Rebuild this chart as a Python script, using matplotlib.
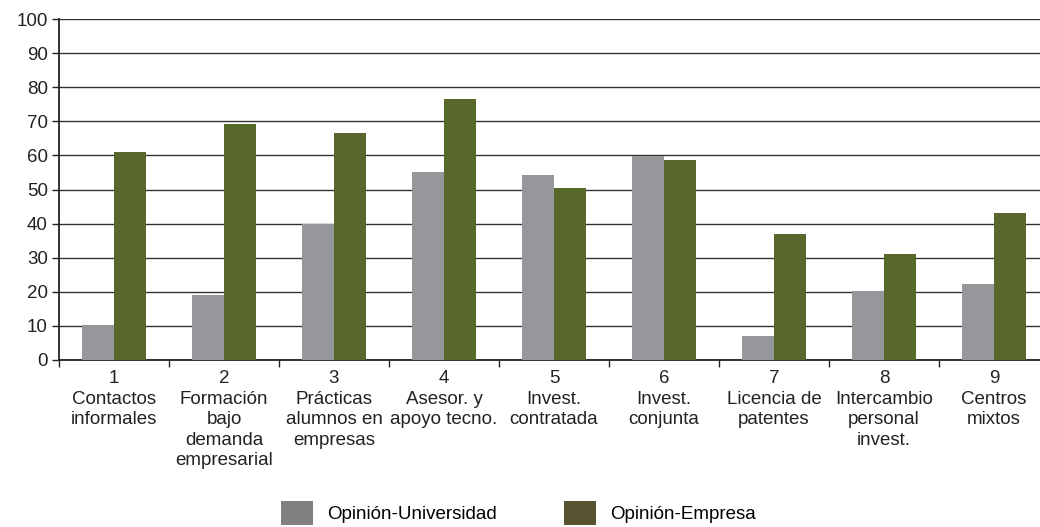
import matplotlib
matplotlib.use("Agg")
import matplotlib.pyplot as plt
from matplotlib.patches import Patch
import numpy as np

numeros = ["1", "2", "3", "4", "5", "6", "7", "8", "9"]
categorias = [
    "Contactos\ninformales",
    "Formación\nbajo\ndemanda\nempresarial",
    "Prácticas\nalumnos en\nempresas",
    "Asesor. y\napoyo tecno.",
    "Invest.\ncontratada",
    "Invest.\nconjunta",
    "Licencia de\npatentes",
    "Intercambio\npersonal\ninvest.",
    "Centros\nmixtos",
]
universidad = [10.3, 19.1, 40.0, 55.1, 54.3, 59.9, 7.0, 20.2, 22.3]
empresa = [61.0, 69.2, 66.6, 76.5, 50.4, 58.7, 37.0, 31.1, 43.1]
series = ["Opinión-Universidad", "Opinión-Empresa"]
yticks = list(range(0, 101, 10))

plt.rcParams["font.family"] = ["Liberation Sans", "DejaVu Sans"]

gris = "#96979b"
verde = "#58682a"

fig = plt.figure(figsize=(10.4, 5.27), dpi=100)
ax = fig.add_axes([59 / 1040, 167 / 527, 990 / 1040, 341 / 527])

x = np.arange(len(numeros))
w = 0.29
ax.bar(x - w / 2, universidad, w, color=gris, zorder=3)
ax.bar(x + w / 2, empresa, w, color=verde, zorder=3)

ax.set_ylim(0, 100)
ax.set_xlim(-0.5, len(numeros) - 0.5)
ax.set_yticks(yticks)
ax.set_yticklabels([str(v) for v in yticks], fontsize=13.5, color="#222222")
ax.yaxis.grid(True, color="#333333", linewidth=1.0, zorder=0)
ax.tick_params(axis="y", length=5, width=1, color="#222222", pad=3)

ax.set_xticks(np.arange(len(numeros) + 1) - 0.5)
ax.set_xticklabels([])
ax.tick_params(axis="x", length=5, width=1, color="#222222")
for i, (n, c) in enumerate(zip(numeros, categorias)):
    ax.text(i, -2.9, n + "\n" + c, ha="center", va="top", fontsize=13.5,
            linespacing=1.28, color="#222222",
            transform=ax.transData)

for s in ["top", "right"]:
    ax.spines[s].set_visible(False)
ax.spines["left"].set_color("#222222")
ax.spines["bottom"].set_color("#222222")
ax.spines["left"].set_linewidth(1.3)
ax.spines["bottom"].set_linewidth(1.3)

handles = [Patch(facecolor="#808080", label=series[0]),
           Patch(facecolor="#575330", label=series[1])]
fig.legend(handles=handles, loc="lower left", bbox_to_anchor=(264 / 1040, -0.028),
           ncol=2, frameon=False, fontsize=13.5, handlelength=1.7, handleheight=1.6,
           handletextpad=0.75, columnspacing=3.6)

fig.savefig("out.png", dpi=100)
